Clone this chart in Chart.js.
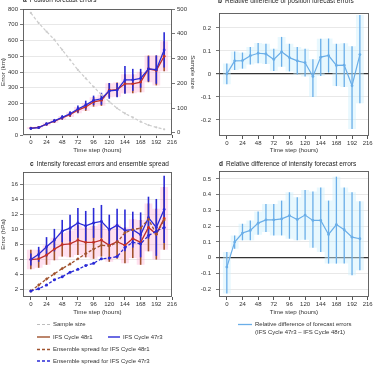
<!DOCTYPE html>
<html><head><meta charset="utf-8">
<script src="https://cdn.jsdelivr.net/npm/chart.js@4"></script>
<style>
body{margin:0;width:375px;height:366px;position:relative;background:#fff;font-family:'Liberation Sans',Arial,sans-serif;color:#333;overflow:hidden}
canvas{position:absolute}
.t{position:absolute;font-size:6.5px;line-height:8px;white-space:nowrap;color:#222}
.t b{margin-right:3px}
.lg{position:absolute;font-size:6px;line-height:7px;white-space:nowrap;color:#333}
svg{position:absolute;overflow:visible}
</style></head><body>
<canvas id="ca" width="196" height="156" style="left:0;top:0"></canvas>
<canvas id="cb" width="187" height="156" style="left:188px;top:0"></canvas>
<canvas id="cc" width="196" height="160" style="left:0;top:158px"></canvas>
<canvas id="cd" width="187" height="160" style="left:188px;top:158px"></canvas>

<div class="t" style="left:23px;top:-4px"><b>a</b>Position forecast errors</div>
<div class="t" style="left:218px;top:-3px"><b>b</b>Relative difference of position forecast errors</div>
<div class="t" style="left:30px;top:160px"><b>c</b>Intensity forecast errors and ensemble spread</div>
<div class="t" style="left:219px;top:160px"><b>d</b>Relative difference of intensity forecast errors</div>

<svg style="left:0;top:0" width="375" height="366">
  <line x1="37" y1="324.5" x2="50" y2="324.5" stroke="#bdbdbd" stroke-width="1.2" stroke-dasharray="3,2"/>
  <line x1="37" y1="337" x2="50" y2="337" stroke="#a0522d" stroke-width="1.4"/>
  <line x1="108" y1="337" x2="120" y2="337" stroke="#2a2ad6" stroke-width="1.4"/>
  <line x1="37" y1="349.5" x2="50" y2="349.5" stroke="#a0522d" stroke-width="1.3" stroke-dasharray="3,2"/>
  <line x1="37" y1="361" x2="50" y2="361" stroke="#2a2ad6" stroke-width="1.3" stroke-dasharray="3,2"/>
  <line x1="238" y1="324.5" x2="252" y2="324.5" stroke="#6aaee8" stroke-width="1.3"/>
</svg>
<div class="lg" style="left:53px;top:321px">Sample size</div>
<div class="lg" style="left:53px;top:333.5px">IFS Cycle 48r1</div>
<div class="lg" style="left:123px;top:333.5px">IFS Cycle 47r3</div>
<div class="lg" style="left:53px;top:346px">Ensemble spread for IFS Cycle 48r1</div>
<div class="lg" style="left:53px;top:357.5px">Ensemble spread for IFS Cycle 47r3</div>
<div class="lg" style="left:255px;top:321px">Relative difference of forecast errors</div>
<div class="lg" style="left:255px;top:328.5px">(IFS Cycle 47r3 – IFS Cycle 48r1)</div>

<script>
// ---------- data ----------
const hours = [0,12,24,36,48,60,72,84,96,108,120,132,144,156,168,180,192,204];
const xTicks = [0,24,48,72,96,120,144,168,192,216];

// panel a
const posErr48r1 = [44,48,69,88,109,130,158,178,210,220,284,288,325,325,336,420,410,500];
const posErr47r3 = [42,47,70,90,112,135,165,190,220,230,280,285,350,350,360,420,415,540];
const posBar48r1 = [6,6,8,10,12,15,20,25,30,35,45,45,60,60,65,85,95,95];
const posBar47r3 = [8,8,10,12,14,16,22,28,30,38,50,45,88,70,60,80,90,112];
const sampleSize = [484,443,409,376,335,295,254,220,186,153,126,99,78,62,45,31,22,14];
const posTicks = [0,100,200,300,400,500,600,700,800];
const sampleTicks = [0,100,200,300,400,500];

// panel b
const relPos   = [0.0,0.057,0.058,0.079,0.09,0.087,0.063,0.096,0.071,0.057,0.049,-0.011,0.073,0.08,0.037,0.038,-0.051,0.084];
const relPosLo = [-0.045,0.017,0.023,0.041,0.046,0.043,0.013,0.031,0.011,-0.003,-0.011,-0.1,-0.009,0.006,-0.053,-0.057,-0.24,-0.128];
const relPosHi = [0.045,0.097,0.093,0.117,0.134,0.131,0.11,0.161,0.131,0.117,0.109,0.064,0.153,0.154,0.131,0.133,0.12,0.256];
const relPosTicks = [-0.2,-0.1,0,0.1,0.2];

// panel c
const intErr48r1 = [6.0,6.1,6.6,7.4,8.0,8.1,8.6,8.3,8.3,8.6,7.9,8.4,7.9,8.8,8.3,10.3,9.4,11.5];
const intErr47r3 = [6.0,6.7,7.7,8.6,9.8,10.2,10.9,10.5,10.9,11.1,10.0,10.6,9.9,10.0,9.3,11.6,10.3,12.7];
const intBar48r1 = [1.3,1.2,1.3,1.5,1.6,1.8,2.0,2.0,2.2,2.2,2.2,2.3,2.4,2.6,3.0,3.2,3.4,4.2];
const intBar47r3 = [0.8,1.0,1.3,1.5,1.5,1.8,2.0,2.0,2.0,2.2,2.0,2.2,2.8,2.4,3.0,2.8,3.8,4.5];
const spread48r1 = [1.8,2.6,3.4,4.1,4.8,5.4,6.1,6.8,7.4,7.9,7.8,8.3,9.6,10.0,10.2,11.4,9.4,11.3];
const spread47r3 = [1.8,2.1,2.6,3.3,3.7,4.3,4.7,5.2,5.5,6.1,6.2,6.4,7.6,8.3,8.1,9.2,9.8,10.3];
const intTicks = [2,4,6,8,10,12,14,16];

// panel d
const relInt   = [-0.06,0.099,0.156,0.173,0.219,0.24,0.24,0.246,0.267,0.242,0.27,0.236,0.236,0.147,0.21,0.177,0.13,0.12];
const relIntLo = [-0.228,0.057,0.11,0.11,0.145,0.162,0.141,0.141,0.12,0.11,0.114,0.063,0.036,-0.038,-0.038,-0.038,-0.112,-0.08];
const relIntHi = [0.035,0.141,0.215,0.236,0.293,0.34,0.34,0.362,0.415,0.383,0.43,0.42,0.446,0.362,0.514,0.446,0.415,0.358];
const relIntTicks = [-0.2,-0.1,0,0.1,0.2,0.3,0.4,0.5];

// ---------- helpers ----------
const FONT = "'Liberation Sans', Arial, sans-serif";
const RED = '#c0302a', BROWN = '#a0522d', BLUE = '#2a2ad6', LBLUE = '#6aaee8';
const pts = arr => hours.map((h,i)=>({x:h,y:arr[i]}));
const minus = (v,e) => v.map((x,i)=>x-e[i]);
const plus = (v,e) => v.map((x,i)=>x+e[i]);

const extras = {
  id:'extras',
  beforeDatasetsDraw(chart, args, opts){
    const {ctx, chartArea:ca, scales} = chart; const x = scales.x;
    ctx.save(); ctx.beginPath(); ctx.rect(ca.left, ca.top, ca.width, ca.height); ctx.clip();
    (opts.bands||[]).forEach(b=>{
      const y = scales[b.axis||'y'];
      ctx.fillStyle = b.color; ctx.beginPath();
      hours.forEach((h,i)=>{
        const x0=x.getPixelForValue(h-6), x1=x.getPixelForValue(h+6), yy=y.getPixelForValue(b.hi[i]);
        if(i===0) ctx.moveTo(x0,yy); else ctx.lineTo(x0,yy);
        ctx.lineTo(x1,yy);
      });
      for(let i=hours.length-1;i>=0;i--){
        const h=hours[i];
        const x0=x.getPixelForValue(h-6), x1=x.getPixelForValue(h+6), yy=y.getPixelForValue(b.lo[i]);
        ctx.lineTo(x1,yy); ctx.lineTo(x0,yy);
      }
      ctx.closePath(); ctx.fill();
    });
    (opts.bars||[]).forEach(b=>{
      const y = scales[b.axis||'y'];
      ctx.strokeStyle=b.color; ctx.lineWidth=b.width||1.5;
      hours.forEach((h,i)=>{
        const px=x.getPixelForValue(h);
        ctx.beginPath(); ctx.moveTo(px,y.getPixelForValue(b.lo[i])); ctx.lineTo(px,y.getPixelForValue(b.hi[i])); ctx.stroke();
      });
    });
    ctx.restore();
  },
  afterDatasetsDraw(chart){
    const {ctx, chartArea:ca} = chart;
    ctx.save(); ctx.strokeStyle='#555'; ctx.lineWidth=0.9;
    ctx.strokeRect(Math.round(ca.left)+0.5, Math.round(ca.top)+0.5, Math.round(ca.width)-1, Math.round(ca.height)-1);
    ctx.restore();
  }
};

function xAxis(min,max,h){
  return {type:'linear',min,max,
    afterBuildTicks:s=>{s.ticks=xTicks.map(v=>({value:v}));},
    afterFit:s=>{s.height=h;},
    ticks:{autoSkip:false,maxRotation:0,font:{size:6,family:FONT},color:'#333',padding:1},
    grid:{drawOnChartArea:false,tickLength:3,tickColor:'#555'},
    border:{display:false},
    title:{display:true,text:'Time step (hours)',font:{size:6.2,family:FONT},color:'#333',padding:{top:0,bottom:2}}
  };
}
function yAxis(pos,min,max,ticks,w,title,zeroLine,pad){
  return {type:'linear',position:pos,min,max,
    afterBuildTicks:s=>{s.ticks=ticks.map(v=>({value:v}));},
    afterFit:s=>{s.width=w;},
    ticks:{font:{size:6,family:FONT},color:'#333',padding:pad,callback:v=>String(v)},
    grid:{drawOnChartArea:pos==='left',tickLength:3,tickColor:'#555',
      color:c=>(zeroLine&&c.tick&&c.tick.value===0)?'#333':'#e2e2e2',
      lineWidth:c=>(zeroLine&&c.tick&&c.tick.value===0)?1.2:0.8},
    border:{display:false},
    title:{display:true,text:title,font:{size:6.2,family:FONT},color:'#333',padding:0}
  };
}
const base = (pad, scales, ext) => ({
  responsive:false, animation:false, devicePixelRatio:1,
  layout:{padding:pad},
  plugins:{legend:{display:false},tooltip:{enabled:false},extras:ext},
  scales
});
const line = (data,color,o={}) => Object.assign({type:'line',data:pts(data),borderColor:color,backgroundColor:color,
  borderWidth:1.3,pointRadius:1.4,pointBorderWidth:0,tension:0,fill:false},o);

// ---------- panel a ----------
new Chart(document.getElementById('ca'),{
  type:'line',
  data:{datasets:[
    line(posErr47r3,BLUE),
    line(posErr48r1,RED),
    line(sampleSize,'#cccccc',{yAxisID:'y2',borderDash:[3,2],borderWidth:1.2,pointRadius:1.1})
  ]},
  options:base({top:9,left:0,right:0,bottom:0},{
    x:xAxis(-12,216,21),
    y:yAxis('left',0,800,posTicks,23,'Error (km)',false,2),
    y2:yAxis('right',-9,500,sampleTicks,24,'Sample size',false,2)
  },{
    bands:[{lo:minus(posErr48r1,posBar48r1),hi:plus(posErr48r1,posBar48r1),color:'rgba(255,160,205,0.32)'}],
    bars:[{lo:minus(posErr48r1,posBar48r1),hi:plus(posErr48r1,posBar48r1),color:BROWN,width:1.6},
          {lo:minus(posErr47r3,posBar47r3),hi:plus(posErr47r3,posBar47r3),color:BLUE,width:1.6}]
  })
,plugins:[extras]});

// ---------- panel b ----------
new Chart(document.getElementById('cb'),{
  type:'line',
  data:{datasets:[line(relPos,LBLUE,{borderWidth:1.2,pointRadius:1.4})]},
  options:base({top:13,left:0,right:6,bottom:0},{
    x:xAxis(-12,218,20),
    y:yAxis('left',-0.27,0.265,relPosTicks,31,'',true,5)
  },{
    bands:[{lo:relPosLo,hi:relPosHi,color:'rgba(205,240,252,0.45)'}],
    bars:[{lo:relPosLo,hi:relPosHi,color:LBLUE,width:1.3}]
  })
,plugins:[extras]});

// ---------- panel c ----------
new Chart(document.getElementById('cc'),{
  type:'line',
  data:{datasets:[
    line(spread47r3,BLUE,{borderDash:[3,2],pointRadius:1.5}),
    line(spread48r1,BROWN,{borderDash:[3,2],pointRadius:1.7,pointStyle:'rectRot'}),
    line(intErr47r3,BLUE),
    line(intErr48r1,RED)
  ]},
  options:base({top:14,left:0,right:0,bottom:0},{
    x:xAxis(-12,216,21),
    y:yAxis('left',1,17.7,intTicks,23,'Error (hPa)',false,2),
    y2:{display:true,position:'right',afterFit:s=>{s.width=24;},ticks:{display:false},grid:{display:false},border:{display:false}}
  },{
    bands:[{lo:minus(intErr48r1,intBar48r1),hi:plus(intErr48r1,intBar48r1),color:'rgba(255,160,205,0.32)'}],
    bars:[{lo:minus(intErr48r1,intBar48r1),hi:plus(intErr48r1,intBar48r1),color:BROWN,width:1.6},
          {lo:minus(intErr47r3,intBar47r3),hi:plus(intErr47r3,intBar47r3),color:BLUE,width:1.6}]
  })
,plugins:[extras]});

// ---------- panel d ----------
new Chart(document.getElementById('cd'),{
  type:'line',
  data:{datasets:[line(relInt,LBLUE,{borderWidth:1.2,pointRadius:1.4})]},
  options:base({top:13,left:0,right:6,bottom:0},{
    x:xAxis(-12,218,21),
    y:yAxis('left',-0.25,0.55,relIntTicks,31,'',true,5)
  },{
    bands:[{lo:relIntLo,hi:relIntHi,color:'rgba(205,240,252,0.45)'}],
    bars:[{lo:relIntLo,hi:relIntHi,color:LBLUE,width:1.3}]
  })
,plugins:[extras]});
</script>
</body></html>
